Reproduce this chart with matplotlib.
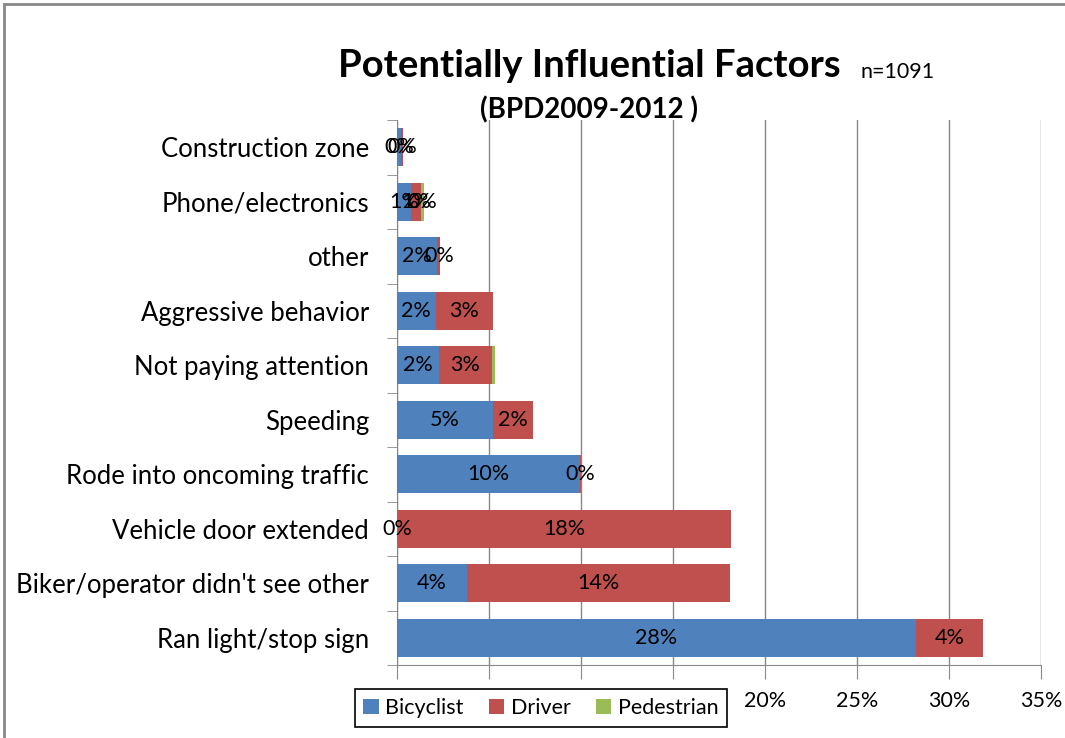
import numpy as np
import matplotlib.pyplot as plt
from matplotlib.ticker import FuncFormatter, FixedLocator

# categories, bottom to top
categories = ["Ran light/stop sign", "Biker/operator didn't see other",
              "Vehicle door extended", "Rode into oncoming traffic", "Speeding",
              "Not paying attention", "Aggressive behavior", "other",
              "Phone/electronics", "Construction zone"]
bicyclist = [28.2, 3.8, 0.05, 9.95, 5.2, 2.3, 2.1, 2.2, 0.75, 0.2]
driver = [3.65, 14.3, 18.1, 0.05, 2.2, 2.85, 3.1, 0.15, 0.55, 0.15]
pedestrian = [0, 0, 0, 0, 0, 0.15, 0, 0, 0.15, 0]
ped_labeled = [False, False, False, False, False, False, False, False, True, False]

BLUE, RED, GREEN = "#4F81BD", "#C0504D", "#9BBB59"
plt.rcParams['font.family'] = ['Lato', 'DejaVu Sans']

fig = plt.figure(figsize=(10.65, 7.38), dpi=100)
ax = fig.add_axes([397 / 1065, 1 - 665 / 738, (1041 - 397) / 1065, (665 - 120) / 738])

y = np.arange(len(categories))
h = 0.7
b1 = ax.barh(y, bicyclist, height=h, color=BLUE, label="Bicyclist", zorder=3)
b2 = ax.barh(y, driver, left=bicyclist, height=h, color=RED, label="Driver", zorder=3)
left3 = np.array(bicyclist) + np.array(driver)
b3 = ax.barh(y, pedestrian, left=left3, height=h, color=GREEN, label="Pedestrian", zorder=3)

lab_fs = 15.5
for i in y:
    ax.text(bicyclist[i] / 2, i, f"{round(bicyclist[i]):.0f}%", ha="center", va="center",
            fontsize=lab_fs, zorder=4)
    ax.text(bicyclist[i] + driver[i] / 2, i, f"{round(driver[i]):.0f}%", ha="center",
            va="center", fontsize=lab_fs, zorder=4)
    if ped_labeled[i]:
        ax.text(left3[i] + pedestrian[i] / 2, i, f"{round(pedestrian[i]):.0f}%", ha="center",
                va="center", fontsize=lab_fs, zorder=4)

ax.set_xlim(0, 35)
ax.set_ylim(-0.5, len(categories) - 0.5)
ax.set_xticks(np.arange(0, 36, 5))
ax.xaxis.set_major_formatter(FuncFormatter(lambda v, p: f"{v:.0f}%"))
ax.tick_params(axis="x", length=10, color="#888888", pad=9, labelsize=15.5)
ax.grid(axis="x", color="#888888", linewidth=1, zorder=0)

ax.set_yticks(y)
ax.set_yticklabels(categories, fontsize=18.5)
ax.tick_params(axis="y", which="major", length=0, pad=20)
ax.yaxis.set_minor_locator(FixedLocator(np.arange(-0.5, len(categories), 1)))
ax.tick_params(axis="y", which="minor", length=7, color="#888888")

for s in ["top", "right"]:
    ax.spines[s].set_visible(False)
ax.spines["left"].set_color("#888888")
ax.spines["bottom"].set_color("#888888")

fig.text(589 / 1065, 1 - 66 / 738, "Potentially Influential Factors", ha="center",
         va="center", fontsize=27.5, fontweight="bold")
fig.text(860 / 1065, 1 - 72 / 738, "n=1091", ha="left", va="center", fontsize=15.5)
fig.text(589 / 1065, 1 - 110 / 738, "(BPD2009-2012 )", ha="center", va="center",
         fontsize=20, fontweight="bold")

leg = fig.legend(handles=[b1, b2, b3], loc="center", bbox_to_anchor=(541 / 1065, 1 - 708 / 738),
                 ncol=3, fontsize=15.5, frameon=True, fancybox=False, edgecolor="black",
                 framealpha=1, handlelength=0.7, handleheight=0.7, handletextpad=0.3,
                 columnspacing=1.2, borderpad=0.4)
leg.get_frame().set_linewidth(1.2)
leg.set_zorder(10)

# outer chart border
fig.add_artist(plt.Rectangle((4 / 1065, -0.1), 1.2, 1 - 4 / 738 + 0.1, transform=fig.transFigure,
                             fill=False, edgecolor="#888888", linewidth=2))

fig.savefig("out.png", dpi=100)
